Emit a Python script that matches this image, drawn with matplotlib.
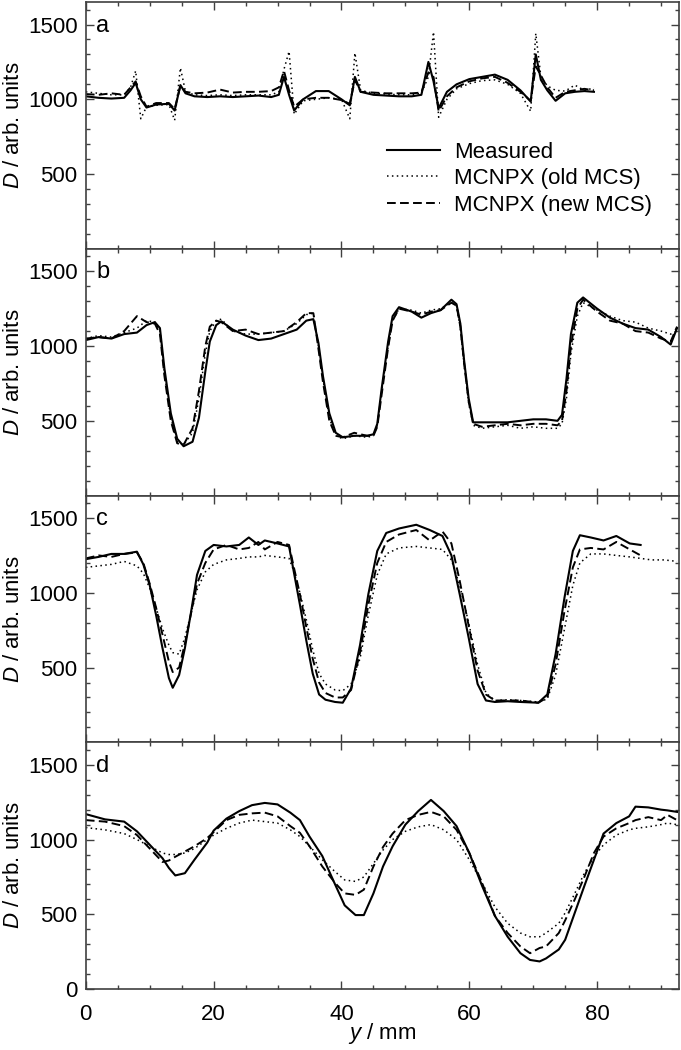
import numpy as np
import matplotlib
matplotlib.use("Agg")
import matplotlib.pyplot as plt
from matplotlib.ticker import MultipleLocator

# ---- panel a: positions (mm) and dose values ----
a_y = [0, 2, 4, 6, 7, 7.8, 8.6, 9.5, 11, 13, 13.9, 14.8, 15.6, 17, 19, 21, 23, 25, 27, 29,
       30.2, 31, 31.8, 32.6, 34, 36, 38, 40, 41.3, 42.1, 43, 45, 47, 49, 51, 52.5, 53.6, 54.4,
       55.2, 56.5, 58, 60, 62, 64, 66, 68, 69.6, 70.4, 71.2, 72.2, 73.5, 75, 76.5, 78, 79.5]
a_measured = [1020, 1010, 1005, 1010, 1060, 1110, 1000, 945, 965, 970, 925, 1095, 1040, 1020,
              1015, 1020, 1015, 1020, 1025, 1015, 1030, 1150, 1030, 925, 1000, 1055, 1055, 1000,
              960, 1150, 1050, 1030, 1025, 1020, 1020, 1030, 1250, 1120, 940, 1050, 1100, 1135,
              1150, 1165, 1130, 1060, 985, 1300, 1130, 1060, 990, 1040, 1050, 1055, 1050]
a_old = [1050, 1040, 1030, 1030, 1080, 1190, 870, 950, 960, 965, 860, 1210, 1050, 1030, 1025,
         1030, 1025, 1030, 1030, 1030, 1050, 1200, 1320, 900, 990, 1000, 1010, 1000, 870, 1310,
         1060, 1040, 1035, 1030, 1030, 1040, 1150, 1450, 880, 1000, 1070, 1105, 1125, 1130, 1100,
         1040, 920, 1440, 1150, 1090, 1060, 1055, 1095, 1060, 1075]
a_new = [1035, 1030, 1040, 1030, 1080, 1120, 1020, 950, 975, 975, 935, 1090, 1050, 1040, 1045,
         1065, 1045, 1050, 1050, 1055, 1080, 1190, 1060, 950, 1000, 1010, 1010, 995, 970, 1130,
         1050, 1045, 1040, 1040, 1040, 1045, 1180, 1150, 920, 1020, 1080, 1120, 1140, 1150, 1110,
         1050, 990, 1220, 1160, 1080, 1010, 1050, 1060, 1070, 1060]

# ---- panel b ----
b_y = [0, 2, 4, 6, 8, 9.5, 10.8, 11.6, 12.3, 13.3, 14.3, 15.3, 16.7, 17.7, 18.7, 19.4, 20.4,
       21.2, 23, 25, 27, 29, 31, 33, 34.5, 35.6, 36.4, 37.1, 38.1, 39.1, 40.2, 42, 44, 45, 45.6,
       46.3, 47.3, 48, 49, 51, 52.5, 54, 55.5, 57.2, 58, 58.6, 59.2, 59.9, 60.6, 62, 64, 66, 68,
       70, 72, 73.8, 74.5, 75.2, 75.9, 76.9, 77.8, 80, 82, 84, 86, 88, 90, 91.5, 92.5]
b_measured = [1040, 1060, 1050, 1080, 1090, 1140, 1160, 1120, 850, 550,
              380, 330, 360, 520, 830, 1030, 1140, 1165, 1110, 1070,
              1040, 1050, 1080, 1110, 1170, 1180, 1020, 800, 550, 420,
              390, 400, 400, 410, 480, 720, 1030, 1200, 1260, 1230,
              1190, 1220, 1240, 1310, 1280, 1150, 900, 650, 490, 490,
              490, 490, 500, 510, 510, 500, 540, 780, 1080, 1290,
              1325, 1250, 1190, 1150, 1120, 1110, 1060, 1010, 1120]
b_old = [1050, 1070, 1060, 1090, 1120, 1170, 1160, 1100, 820, 520,
         360, 340, 420, 650, 950, 1100, 1170, 1180, 1100, 1080,
         1080, 1090, 1100, 1150, 1210, 1220, 1000, 780, 520, 400,
         380, 400, 390, 400, 470, 700, 1000, 1170, 1250, 1240,
         1220, 1240, 1250, 1290, 1270, 1120, 870, 620, 470, 450,
         460, 470, 450, 460, 450, 450, 480, 650, 950, 1200,
         1290, 1240, 1200, 1170, 1160, 1120, 1100, 1080, 1100]
b_new = [1050, 1060, 1050, 1100, 1200, 1160, 1150, 1080, 800, 500,
         350, 340, 450, 700, 1000, 1130, 1170, 1160, 1100, 1110,
         1080, 1090, 1100, 1160, 1220, 1220, 980, 760, 500, 400,
         390, 420, 400, 400, 460, 680, 990, 1170, 1250, 1230,
         1210, 1230, 1240, 1290, 1270, 1130, 880, 630, 480, 460,
         470, 480, 470, 480, 480, 470, 500, 700, 1000, 1250,
         1310, 1230, 1170, 1150, 1100, 1090, 1050, 1030, 1130]

# ---- panel c ----
c_y = [0, 2, 4, 6, 8, 9, 10, 11, 12, 13, 13.6, 14.6, 15.5, 16.5, 17.4, 18.7, 20, 22, 24, 25.5,
       27, 28, 30, 31.8, 32.5, 33.5, 34.5, 35.5, 36.5, 37.5, 39, 40.2, 41.5, 42.9, 44.2, 45.6,
       47, 49, 51.7, 53.8, 55.8, 57.2, 58.5, 59.9, 61.3, 62.6, 64, 66, 68, 70.8, 72.2, 73.5,
       74.9, 76.2, 77.3, 79, 81, 83, 85.1, 86.8]
c_y_old = c_y + [88.5, 90.5, 92.5]
c_measured = [1225, 1240, 1260, 1260, 1275, 1190, 1050, 850, 630, 430,
              365, 450, 630, 880, 1120, 1280, 1320, 1310, 1320, 1370,
              1320, 1350, 1330, 1310, 1150, 920, 680, 460, 320, 285,
              270, 265, 360, 650, 990, 1280, 1400, 1430, 1455, 1420,
              1380, 1250, 990, 700, 390, 280, 270, 275, 270, 265,
              320, 590, 970, 1280, 1385, 1370, 1350, 1380, 1330, 1320]
c_old = [1170, 1180, 1190, 1210, 1180, 1130, 1030, 900, 760, 650,
         600, 590, 700, 870, 1020, 1140, 1190, 1220, 1230, 1240,
         1240, 1250, 1240, 1230, 1150, 1000, 820, 620, 460, 390,
         350, 345, 390, 560, 850, 1120, 1260, 1300, 1310, 1300,
         1290, 1220, 1050, 800, 520, 330, 280, 285, 280, 270,
         290, 450, 760, 1050, 1200, 1260, 1260, 1250, 1240, 1230,
         1220, 1220, 1210]
c_new = [1230, 1250, 1240, 1260, 1270, 1200, 1060, 900, 720, 540,
         470, 500, 660, 870, 1060, 1200, 1290, 1320, 1290, 1300,
         1340, 1290, 1340, 1320, 1180, 990, 770, 560, 400, 330,
         300, 300, 350, 600, 920, 1200, 1340, 1390, 1420, 1350,
         1410, 1330, 1080, 780, 480, 320, 280, 280, 280, 265,
         300, 520, 880, 1170, 1290, 1300, 1290, 1340, 1290, 1250]

# ---- panel d ----
d_y = [0, 3, 6, 8, 10, 12, 13, 14, 15.5, 17, 19, 20, 22, 24, 26, 28, 30, 32, 33.5, 35, 37, 39,
       40.5, 42.2, 43.5, 45, 46.5, 48, 50, 52, 54, 56, 58, 60, 62, 64, 66, 68, 69.5, 71, 72, 74,
       75, 76.5, 78, 79.5, 81, 83, 85, 86, 88, 90, 91, 92.5]
d_measured = [1170, 1135, 1120, 1055, 965, 875, 810, 760, 775, 865,
              980, 1060, 1140, 1190, 1230, 1245, 1235, 1180, 1130, 1020,
              890, 700, 560, 495, 495, 640, 820, 955, 1100, 1190,
              1265, 1190, 1090, 910, 690, 490, 350, 240, 195, 185,
              205, 265, 330, 510, 690, 865, 1040, 1110, 1155, 1220,
              1215, 1200, 1195, 1185]
d_old = [1080, 1065, 1040, 1000, 955, 910, 900, 900, 910, 940,
         1000, 1030, 1075, 1110, 1130, 1120, 1110, 1065, 1020, 955,
         865, 785, 730, 720, 750, 840, 930, 1000, 1055, 1085,
         1100, 1065, 1000, 865, 710, 550, 440, 375, 350, 350,
         375, 440, 510, 640, 775, 885, 965, 1030, 1065, 1075,
         1085, 1100, 1110, 1100]
d_new = [1130, 1120, 1090, 1030, 940, 850, 860, 885, 920, 955,
         1010, 1050, 1130, 1165, 1175, 1180, 1155, 1090, 1045, 955,
         820, 710, 640, 630, 665, 820, 950, 1040, 1130, 1165,
         1185, 1155, 1065, 910, 710, 490, 375, 285, 240, 275,
         285, 375, 460, 600, 750, 910, 1020, 1075, 1110, 1130,
         1150, 1130, 1165, 1130]

panel_labels = ["a", "b", "c", "d"]
legend_labels = ["Measured", "MCNPX (old MCS)", "MCNPX (new MCS)"]

plt.rcParams['font.family'] = ['Liberation Sans', 'DejaVu Sans']
plt.rcParams['mathtext.fontset'] = 'custom'
plt.rcParams['mathtext.rm'] = 'Liberation Sans'
plt.rcParams['mathtext.it'] = 'Liberation Sans:italic'

SPINE = '#404040'
FS = 16


def style_axis(ax, show_zero):
    ax.set_xlim(0, 92.8)
    ax.set_ylim(0, 1650)
    ax.xaxis.set_major_locator(MultipleLocator(20))
    ax.xaxis.set_minor_locator(MultipleLocator(5))
    ax.set_yticks([0, 500, 1000, 1500] if show_zero else [500, 1000, 1500])
    ax.yaxis.set_minor_locator(MultipleLocator(100))
    ax.tick_params(which='both', direction='in', top=True, right=True,
                   labelsize=FS, color=SPINE, width=1.0)
    ax.tick_params(which='major', length=6)
    ax.tick_params(which='minor', length=3)
    ax.tick_params(axis='y', pad=6)
    ax.tick_params(axis='x', pad=11)
    for sp in ax.spines.values():
        sp.set_color(SPINE)
        sp.set_linewidth(1.2)
    ax.set_ylabel(r'$D$ / arb. units', fontsize=FS, labelpad=3)


def draw_panel(ax, xs, meas, xs_old, old, new, label):
    ax.plot(xs, meas, color='black', lw=1.5, ls='-')
    ax.plot(xs_old, old, color='black', lw=1.1, ls=(0, (1, 2.2)))
    ax.plot(xs, new, color='black', lw=1.4, ls=(0, (4.5, 2.2)))
    ax.text(0.018, 0.905, label, transform=ax.transAxes, fontsize=FS + 1,
            ha='left', va='center')


def main():
    fig = plt.figure(figsize=(6.81, 10.5), dpi=100)
    gs = fig.add_gridspec(4, 1, left=0.126, right=0.997, bottom=0.058, top=0.998, hspace=0)
    axes = [fig.add_subplot(gs[i]) for i in range(4)]

    panels = [
        (a_y, a_measured, a_y, a_old, a_new),
        (b_y, b_measured, b_y, b_old, b_new),
        (c_y, c_measured, c_y_old, c_old, c_new),
        (d_y, d_measured, d_y, d_old, d_new),
    ]
    for i, (ax, p) in enumerate(zip(axes, panels)):
        draw_panel(ax, *p, panel_labels[i])
        style_axis(ax, show_zero=(i == 3))
        if i < 3:
            ax.tick_params(labelbottom=False)

    axes[3].set_xlabel(r'$y$ / mm', fontsize=FS, labelpad=-3)
    fig.align_ylabels(axes)

    handles = axes[0].get_lines()[:3]
    axes[0].legend(handles, legend_labels, loc='upper left', bbox_to_anchor=(0.508, 0.435),
                   frameon=False, fontsize=FS, handlelength=2.4, handletextpad=0.6,
                   labelspacing=0.25, borderpad=0, borderaxespad=0)

    fig.savefig('out.png', dpi=100)


if __name__ == "__main__":
    main()
